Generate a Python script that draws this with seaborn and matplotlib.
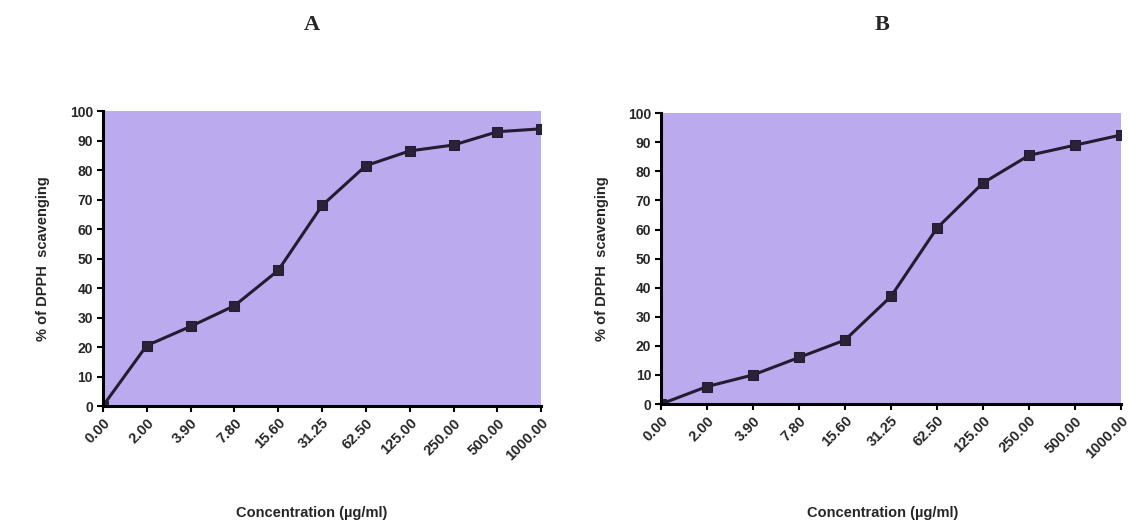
import pandas as pd
import seaborn as sns
import matplotlib.pyplot as plt

# data
conc_labels = ['0.00', '2.00', '3.90', '7.80', '15.60', '31.25', '62.50',
               '125.00', '250.00', '500.00', '1000.00']
scav_a = [0, 20.5, 27, 34, 46, 68, 81.5, 86.5, 88.5, 93, 94]
scav_b = [0, 6, 10, 16, 22, 37, 60.5, 76, 85.5, 89, 92.5]

sns.set_style('white')
plt.rcParams['font.family'] = ['Liberation Sans', 'DejaVu Sans']

fig = plt.figure(figsize=(11.3, 5.24), dpi=100)
ax_a = fig.add_axes([0.091, 0.225, 0.388, 0.563])
ax_b = fig.add_axes([0.585, 0.229, 0.407, 0.555])

panels = [(ax_a, scav_a, 'A', 0.276), (ax_b, scav_b, 'B', 0.781)]
for ax, vals, letter, cx in panels:
    df = pd.DataFrame({'pos': range(len(conc_labels)), 'val': vals})
    sns.lineplot(data=df, x='pos', y='val', ax=ax, color='#241c30',
                 linewidth=2.2, marker='s', markersize=7,
                 markerfacecolor='#2a2238', markeredgecolor='#241c30')
    ax.set_facecolor('#bcaaee')
    ax.set_xlim(0, len(conc_labels) - 1)
    ax.set_ylim(0, 100)
    ax.set_xticks(range(len(conc_labels)))
    ax.set_xticklabels(conc_labels, rotation=45, ha='right',
                       rotation_mode='anchor', fontsize=10.5, fontweight='bold')
    ax.set_yticks(range(0, 101, 10))
    ax.set_yticklabels([str(v) for v in range(0, 101, 10)],
                       fontsize=10, fontweight='bold')
    ax.tick_params(axis='both', direction='out', length=4, width=1.5,
                   color='black', bottom=True, left=True, pad=3)
    for side in ['top', 'right']:
        ax.spines[side].set_visible(False)
    for side in ['left', 'bottom']:
        ax.spines[side].set_linewidth(2.2)
        ax.spines[side].set_color('black')
    ax.set_xlabel('')
    ax.set_ylabel('% of DPPH  scavenging', fontsize=10.5, fontweight='bold',
                  labelpad=14)
    fig.text(cx, 0.008, 'Concentration (µg/ml)', ha='center', va='bottom',
             fontsize=10.5, fontweight='bold')
    fig.text(cx, 0.952, letter, ha='center', va='center', fontsize=16,
             fontweight='bold', family='Liberation Serif')

fig.savefig('out.png', dpi=100, facecolor='white')
